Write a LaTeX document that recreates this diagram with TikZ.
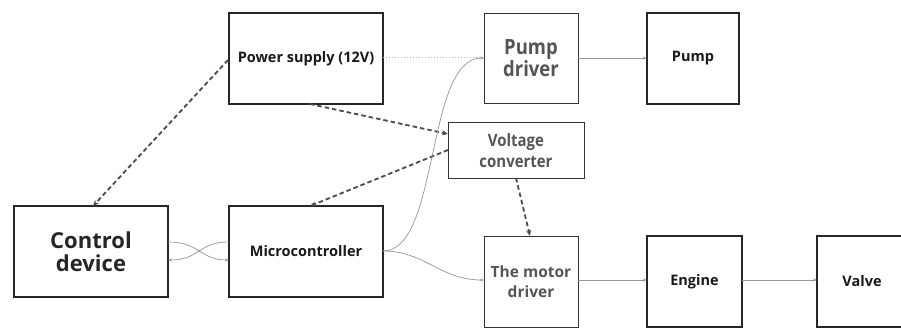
\documentclass[tikz,border=0pt]{standalone}
\usepackage{fontspec}
\usepackage{graphicx}
\setmainfont{Open Sans}
\newcommand\sqz[1]{\scalebox{0.88}[1]{#1}}
\usetikzlibrary{arrows.meta}
\definecolor{txtgray}{RGB}{85,85,85}
\definecolor{linegray}{RGB}{150,150,150}
\definecolor{dashgray}{RGB}{75,75,75}
\tikzset{
  box/.style={draw=black!85, line width=1.3pt, inner sep=0pt, align=center},
  thinbox/.style={draw=black!80, line width=0.9pt, inner sep=0pt, align=center},
  smalltxt/.style={font=\bfseries\fontsize{14.5}{16}\selectfont, text=black!90},
  flow/.style={draw=linegray, line width=0.7pt, -{Stealth[length=4pt,width=3pt]}},
  power/.style={draw=dashgray, line width=1.8pt, dash pattern=on 4.5pt off 3pt, -{Stealth[length=6pt,width=5pt]}},
}
\begin{document}
\begin{tikzpicture}[x=1pt,y={(0pt,-1pt)}]
\clip (0,0) rectangle (901,334);
\fill[white] (0,0) rectangle (901,334);
% nodes
\node[box, line width=1.6pt, minimum width=154pt, minimum height=91pt, smalltxt] (ps) at (306,58.5) {Power supply (12V)};
\node[thinbox, minimum width=94pt, minimum height=90pt, text=txtgray, font=\bfseries\fontsize{21}{22}\selectfont] (pd) at (531,58) {\sqz{Pump}\\\sqz{driver}};
\node[box, minimum width=92pt, minimum height=91pt, smalltxt] (pump) at (693,58.5) {Pump};
\node[thinbox, minimum width=136pt, minimum height=56pt, text=txtgray, font=\bfseries\fontsize{17}{21}\selectfont] (vc) at (516,150.5) {\sqz{Voltage}\\\sqz{converter}};
\node[box, minimum width=154pt, minimum height=91pt, text=black!85, font=\bfseries\fontsize{22}{23}\selectfont] (cd) at (91,251.5) {Control\\device};
\node[box, minimum width=154pt, minimum height=91pt, smalltxt] (mc) at (306,251.5) {Microcontroller};
\node[thinbox, minimum width=94pt, minimum height=91pt, text=txtgray, font=\bfseries\fontsize{15.5}{20}\selectfont] (md) at (531,281.5) {The motor\\driver};
\node[box, minimum width=95pt, minimum height=91pt, smalltxt] (eng) at (694.5,281.5) {Engine};
\node[box, minimum width=90pt, minimum height=91pt, smalltxt] (valve) at (862,281.5) {Valve};
% anchor coordinates
\coordinate (psL) at (228,60);
\coordinate (cdT) at (93,206);
\coordinate (psB) at (310,104);
\coordinate (vcL1) at (448,134);
\coordinate (vcL2) at (448,150);
\coordinate (mcT) at (310,206);
\coordinate (vcB) at (516,178);
\coordinate (mdT) at (530,236);
\coordinate (psR) at (383,58);
\coordinate (pdL) at (484,58);
\coordinate (mcR) at (383,251);
\coordinate (mdL) at (484,280);
\coordinate (cdR1) at (168,242);
\coordinate (cdR2) at (168,260);
\coordinate (mcL1) at (229,242);
\coordinate (mcL2) at (229,260);
\coordinate (pdR) at (578,58);
\coordinate (pumpL) at (647,58);
\coordinate (mdR) at (578,280);
\coordinate (engL) at (647,280);
\coordinate (engR) at (742,280);
\coordinate (valveL) at (817,280);
% power connectors
\draw[power] (psL) -- (cdT);
\draw[power] (psB) -- (vcL1);
\draw[power] (vcL2) -- (mcT);
\draw[power] (vcB) -- (mdT);
\draw[draw=black!25, line width=1pt, dotted] (psR) -- (pdL);
% signal connectors
\draw[flow] (mcR) .. controls (440,251) and (425,58) .. (pdL);
\draw[flow] (mcR) .. controls (425,251) and (440,280) .. (mdL);
\draw[flow] (cdR1) .. controls (200,242) and (200,260) .. (mcL2);
\draw[flow] (mcL1) .. controls (198,242) and (200,260) .. (cdR2);
\draw[flow] (pdR) -- (pumpL);
\draw[flow] (mdR) -- (engL);
\draw[flow] (engR) -- (valveL);
\end{tikzpicture}
\end{document}
